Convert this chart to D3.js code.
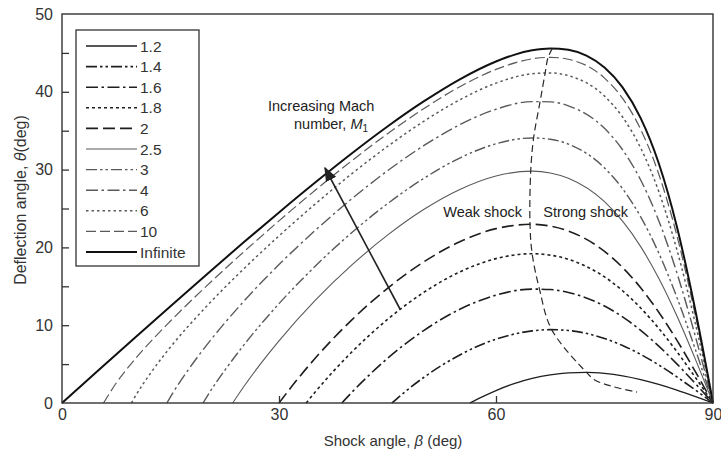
<!DOCTYPE html>
<html>
<head>
<meta charset="utf-8">
<script src="https://cdn.jsdelivr.net/npm/d3@7"></script>
<style>
  html, body { margin: 0; padding: 0; background: #fff; }
  svg { display: block; font-family: "Liberation Sans", Arial, Helvetica, sans-serif; }
</style>
</head>
<body>
<svg id="chart" width="721" height="454"></svg>
<script>
// Oblique-shock deflection angle θ against shock angle β, one curve per upstream Mach number.
// Each series is a list of [β (deg), θ (deg)] pairs.
const machLabels = ["1.2", "1.4", "1.6", "1.8", "2", "2.5", "3", "4", "6", "10", "Infinite"];

const m1_2 = [[56.4,0],[57.5,0.52],[60,1.6],[62.5,2.49],[65,3.16],[67.5,3.62],[70,3.88],[72.5,3.94],[75,3.80],[77.5,3.49],[80,3.01],[82.5,2.39],[85,1.66],[87.5,0.85],[90,0]];
const m1_4 = [[45.6,0],[47.5,1.5],[50,3.28],[55,6.18],[60,8.21],[65,9.27],[67.5,9.43],[70,9.32],[75,8.29],[77.5,7.39],[80,6.25],[82.5,4.89],[85,3.36],[87.5,1.71],[90,0]];
const m1_6 = [[38.7,0],[40,1.31],[42.5,3.62],[45,5.73],[50,9.31],[55,12.05],[60,13.87],[65,14.64],[67.5,14.58],[70,14.21],[75,12.46],[77.5,11.07],[80,9.34],[82.5,7.31],[85,5.03],[87.5,2.56],[90,0]];
const m1_8 = [[33.75,0],[35,1.41],[37.5,4.06],[40,6.49],[45,10.74],[50,14.21],[55,16.85],[60,18.56],[65,19.19],[67.5,19.01],[70,18.47],[75,16.21],[77.5,14.43],[80,12.21],[82.5,9.59],[85,6.61],[87.5,3.37],[90,0]];
const m2_0 = [[30,0],[32.5,2.99],[35,5.75],[40,10.62],[45,14.74],[50,18.13],[55,20.73],[60,22.41],[65,22.97],[67.5,22.74],[70,22.11],[75,19.49],[77.5,17.42],[80,14.81],[82.5,11.67],[85,8.08],[87.5,4.13],[90,0]];
const m2_5 = [[23.6,0],[25,1.93],[27.5,5.09],[30,7.99],[35,13.18],[40,17.68],[45,21.57],[50,24.86],[55,27.44],[60,29.18],[65,29.80],[67.5,29.57],[70,28.89],[75,25.88],[77.5,23.37],[80,20.10],[82.5,16.03],[85,11.21],[87.5,5.77],[90,0]];
const m3_0 = [[19.5,0],[20,0.77],[22.5,4.19],[25,7.28],[30,12.77],[35,17.58],[40,21.85],[45,25.62],[50,28.86],[55,31.49],[60,33.32],[65,34.07],[67.5,33.90],[70,33.28],[75,30.22],[77.5,27.54],[80,23.93],[82.5,19.28],[85,13.60],[87.5,7.05],[90,0]];
const m4_0 = [[14.5,0],[15,0.80],[17.5,4.32],[20,7.44],[25,12.94],[30,17.79],[35,22.18],[40,26.20],[45,29.85],[50,33.07],[55,35.77],[60,37.76],[65,38.74],[67.5,38.71],[70,38.20],[75,35.30],[77.5,32.55],[80,28.66],[82.5,23.44],[85,16.76],[87.5,8.78],[90,0]];
const m6_0 = [[9.6,0],[10,0.65],[12.5,4.17],[15,7.19],[20,12.44],[25,17.13],[30,21.48],[35,25.57],[40,29.42],[45,32.98],[50,36.20],[55,38.97],[60,41.11],[65,42.32],[67.5,42.43],[70,42.08],[75,39.45],[77.5,36.76],[80,32.78],[82.5,27.19],[85,19.72],[87.5,10.45],[90,0]];
const m10_0 = [[5.74,0],[7.5,2.57],[10,5.53],[15,10.54],[20,15.05],[25,19.32],[30,23.41],[35,27.34],[40,31.09],[45,34.61],[50,37.83],[55,40.65],[60,42.88],[65,44.24],[67.5,44.43],[70,44.18],[75,41.76],[77.5,39.15],[80,35.17],[82.5,29.43],[85,21.55],[87.5,11.51],[90,0]];
const mInf = [[0,0],[5,4.17],[10,8.32],[15,12.44],[20,16.53],[25,20.56],[30,24.50],[35,28.34],[40,32.04],[45,35.54],[50,38.76],[55,41.61],[60,43.90],[62.5,44.75],[65,45.33],[67.5,45.58],[70,45.40],[72.5,44.64],[75,43.12],[77.5,40.57],[80,36.61],[82.5,30.81],[85,22.70],[87.5,12.18],[90,0]];

// Boundary between weak and strong solutions (locus of maximum deflection).
const maxDeflection = [[67.8,45.58],[67.2,44.43],[66.8,42.44],[66.1,38.77],[65.2,34.07],[64.8,29.80],[64.7,22.97],[65.0,19.19],[66.0,14.66],[67.7,9.43],[72.5,3.94],[73.6,3.0],[76.2,2.1],[79.5,1.4]];

const xTicks = [0, 30, 60, 90];
const xMinorTicks = [30, 60];
const yTicks = [0, 10, 20, 30, 40, 50];
const yMinorTicks = [5, 10, 15, 20, 25, 30, 35, 40, 45];

const series = [m1_2, m1_4, m1_6, m1_8, m2_0, m2_5, m3_0, m4_0, m6_0, m10_0, mInf];

// Line styles: dash pattern, colour, width for each Mach number.
const styles = [
  { dash: null,               color: "#1e1e1e", width: 1.3 },
  { dash: "11,3,2.5,3,2.5,3", color: "#1e1e1e", width: 1.6 },
  { dash: "12,3.5,2.5,3.5",   color: "#1e1e1e", width: 1.6 },
  { dash: "3,3",              color: "#1e1e1e", width: 1.6 },
  { dash: "12,5",             color: "#1e1e1e", width: 1.6 },
  { dash: null,               color: "#5a5a5a", width: 1.1 },
  { dash: "11,3,2.5,3,2.5,3", color: "#5a5a5a", width: 1.4 },
  { dash: "12,3.5,2.5,3.5",   color: "#5a5a5a", width: 1.4 },
  { dash: "2.5,3",            color: "#5a5a5a", width: 1.5 },
  { dash: "10,4",             color: "#5a5a5a", width: 1.2 },
  { dash: null,               color: "#111111", width: 2.0 }
];

const svg = d3.select("#chart");
const x = d3.scaleLinear().domain([0, 90]).range([62, 713]);
const y = d3.scaleLinear().domain([0, 50]).range([403, 14]);

const line = d3.line()
  .x(d => x(d[0]))
  .y(d => y(d[1]))
  .curve(d3.curveMonotoneX);

// Curves
const curves = svg.append("g").attr("fill", "none").attr("stroke-linecap", "butt");
series.forEach((s, i) => {
  curves.append("path")
    .attr("d", line(s))
    .attr("stroke", styles[i].color)
    .attr("stroke-width", styles[i].width)
    .attr("stroke-dasharray", styles[i].dash);
});

// Max-deflection boundary
svg.append("path")
  .attr("d", d3.line().x(d => x(d[0])).y(d => y(d[1])).curve(d3.curveCatmullRom)(maxDeflection))
  .attr("fill", "none")
  .attr("stroke", "#2a2a2a")
  .attr("stroke-width", 1.2)
  .attr("stroke-dasharray", "7,4");

// Frame
svg.append("rect")
  .attr("x", x(0)).attr("y", y(50))
  .attr("width", x(90) - x(0)).attr("height", y(0) - y(50))
  .attr("fill", "none").attr("stroke", "#333").attr("stroke-width", 1.4);

// Inward ticks
const yAxis = d3.axisRight(y).tickValues(yMinorTicks).tickSize(7).tickFormat("");
svg.append("g").attr("transform", `translate(${x(0)},0)`).call(yAxis)
  .call(g => g.select(".domain").remove())
  .call(g => g.selectAll("line").attr("stroke", "#333").attr("stroke-width", 1.3));
const xAxis = d3.axisTop(x).tickValues(xMinorTicks).tickSize(7).tickFormat("");
svg.append("g").attr("transform", `translate(0,${y(0)})`).call(xAxis)
  .call(g => g.select(".domain").remove())
  .call(g => g.selectAll("line").attr("stroke", "#333").attr("stroke-width", 1.3));

// Tick labels
const yLab = d3.axisLeft(y).tickValues(yTicks).tickSize(0).tickPadding(9);
svg.append("g").attr("transform", `translate(${x(0)},0)`).call(yLab)
  .call(g => g.select(".domain").remove())
  .call(g => g.selectAll("text").attr("font-size", 16).attr("fill", "#333").attr("font-family", "Liberation Sans, Arial, sans-serif"));
const xLab = d3.axisBottom(x).tickValues(xTicks).tickSize(0).tickPadding(6);
svg.append("g").attr("transform", `translate(0,${y(0)})`).call(xLab)
  .call(g => g.select(".domain").remove())
  .call(g => g.selectAll("text").attr("font-size", 16).attr("fill", "#333").attr("font-family", "Liberation Sans, Arial, sans-serif"));

// Axis titles
svg.append("text")
  .attr("x", 393).attr("y", 446)
  .attr("text-anchor", "middle").attr("font-size", 15).attr("fill", "#333")
  .html('Shock angle, <tspan font-style="italic">β</tspan> (deg)');
svg.append("text")
  .attr("transform", "translate(26,200) rotate(-90)")
  .attr("text-anchor", "middle").attr("font-size", 16).attr("fill", "#333")
  .html('Deflection angle, <tspan font-style="italic">θ</tspan>(deg)');

// Legend
const legend = svg.append("g");
legend.append("rect")
  .attr("x", 76).attr("y", 30).attr("width", 123).attr("height", 236)
  .attr("fill", "#fff").attr("stroke", "#333").attr("stroke-width", 1.3);
machLabels.forEach((lab, i) => {
  const ly = 46 + i * 20.6;
  legend.append("line")
    .attr("x1", 86).attr("x2", 137).attr("y1", ly).attr("y2", ly)
    .attr("stroke", styles[i].color).attr("stroke-width", styles[i].width)
    .attr("stroke-dasharray", styles[i].dash);
  legend.append("text")
    .attr("x", 140).attr("y", ly + 5.5)
    .attr("font-size", 15.5).attr("fill", "#333")
    .text(lab);
});

// Annotations
const ann = svg.append("g").attr("font-size", 14.5).attr("fill", "#222");
ann.append("text").attr("x", 268).attr("y", 111).text("Increasing Mach");
ann.append("text").attr("x", 294).attr("y", 129)
  .html('number, <tspan font-style="italic">M</tspan><tspan font-size="10" dy="3">1</tspan>');
ann.append("text").attr("x", 522).attr("y", 217).attr("text-anchor", "end").text("Weak shock");
ann.append("text").attr("x", 628).attr("y", 217).attr("text-anchor", "end").text("Strong shock");

svg.append("defs").append("marker")
  .attr("id", "arrowHead").attr("viewBox", "0 0 10 10")
  .attr("refX", 9).attr("refY", 5).attr("markerWidth", 9).attr("markerHeight", 9)
  .attr("orient", "auto-start-reverse")
  .append("path").attr("d", "M0,1 L10,5 L0,9 Z").attr("fill", "#222");
svg.append("line")
  .attr("x1", 400).attr("y1", 309).attr("x2", 325).attr("y2", 168)
  .attr("stroke", "#222").attr("stroke-width", 1.6)
  .attr("marker-end", "url(#arrowHead)");
</script>
</body>
</html>
